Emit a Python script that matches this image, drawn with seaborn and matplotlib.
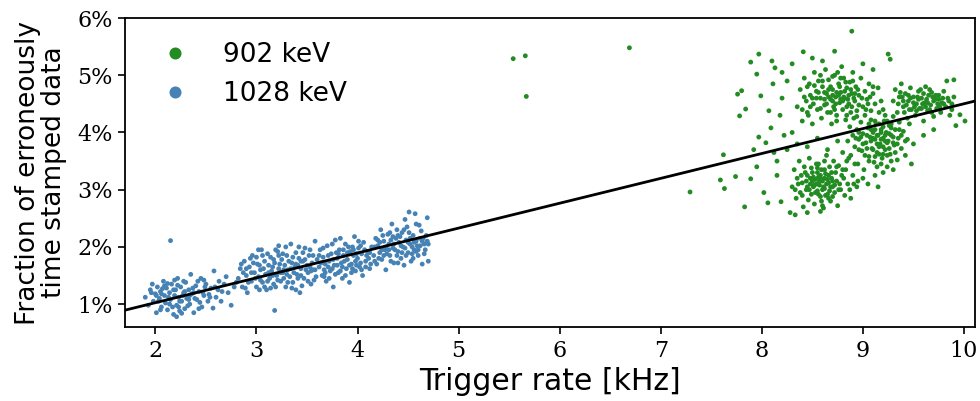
import matplotlib
matplotlib.use("Agg")
import matplotlib.pyplot as plt
import seaborn as sns
import pandas as pd
from matplotlib.ticker import FuncFormatter

# ---------------- data ----------------
labels = ["902 keV", "1028 keV"]
colors = {"902 keV": "forestgreen", "1028 keV": "steelblue"}

# 1028 keV: trigger rate [kHz], fraction [%]
blue_pts = [
    (1.90,1.12),(1.93,0.98),(1.95,1.25),(1.97,1.35),(1.98,1.05),(2.00,1.18),(2.01,0.85),(2.02,1.30),
    (2.04,1.10),(2.05,1.22),(2.06,0.95),(2.08,1.40),(2.09,1.15),(2.10,1.02),(2.11,1.28),(2.12,0.90),
    (2.14,1.20),(2.15,2.11),(2.15,1.08),(2.16,1.35),(2.18,0.82),(2.19,1.15),(2.20,1.25),(2.21,0.78),
    (2.21,0.98),(2.22,1.45),(2.23,1.12),(2.24,0.88),(2.25,1.30),(2.26,1.05),(2.28,1.20),(2.29,0.92),
    (2.30,1.38),(2.31,1.10),(2.33,1.25),(2.34,1.00),(2.35,1.52),(2.36,1.18),(2.38,0.85),(2.40,1.32),
    (2.41,1.08),(2.43,1.22),(2.45,1.45),(2.46,0.95),(2.48,1.15),(2.50,1.35),(2.52,1.05),(2.55,1.28),
    (2.58,1.58),(2.60,1.12),(2.63,1.40),(2.66,1.22),(2.70,1.48),(2.75,0.98),(2.78,1.30),
    (2.03,1.05),(2.07,1.27),(2.13,1.12),(2.17,0.95),(2.22,1.33),(2.27,1.15),(2.32,0.97),(2.37,1.28),
    (2.42,1.40),(2.47,1.20),(2.53,1.17),(2.57,0.93),(2.62,1.25),(2.68,1.35),(2.06,1.18),(2.19,1.42),
    (2.26,0.84),(2.34,1.15),(2.44,1.03),(2.12,1.36),(1.96,1.20),(2.29,1.22),(2.39,1.10),(2.49,1.30),
    (2.24,1.05),
    (2.01,1.15),(2.05,0.90),(2.09,1.32),(2.14,1.00),(2.18,1.25),(2.23,0.95),(2.28,1.40),(2.33,1.08),
    (2.38,1.20),(2.43,0.92),(2.48,1.42),(2.54,1.12),(2.59,1.30),(2.65,1.05),(2.72,1.20),(2.80,1.38),
    (2.82,1.45),(2.84,1.62),(2.86,1.30),(2.88,1.75),(2.90,1.50),(2.91,1.20),(2.93,1.65),(2.95,1.40),
    (2.96,1.85),(2.98,1.55),(3.00,1.30),(3.01,1.70),(3.02,1.48),(3.04,1.60),(3.05,1.95),(3.06,1.38),
    (3.08,1.75),(3.09,1.52),(3.10,1.25),(3.12,1.68),(3.13,1.45),(3.14,1.82),(3.15,1.58),(3.17,1.35),
    (3.18,0.89),(3.18,1.72),(3.20,1.50),(3.21,1.92),(3.22,1.62),(3.24,1.40),(3.25,1.78),(3.26,1.55),
    (3.28,1.68),(3.29,1.30),(3.30,1.85),(3.31,1.60),(3.33,1.48),(3.34,2.05),(3.35,1.72),(3.36,1.38),
    (3.38,1.65),(3.39,1.90),(3.40,1.52),(3.42,1.80),(3.43,1.20),(3.44,1.62),(3.46,1.75),(3.47,1.45),
    (3.48,1.98),(3.50,1.68),(3.51,1.55),(3.52,1.85),(3.54,1.35),(3.55,1.72),(3.56,1.60),(3.58,2.10),
    (3.59,1.48),(3.60,1.78),
    (2.87,1.55),(2.92,1.38),(2.97,1.72),(3.03,1.25),(3.07,1.62),(3.11,1.88),(3.16,1.50),(3.19,1.30),
    (3.23,1.70),(3.27,1.45),(3.32,1.75),(3.37,1.55),(3.41,1.68),(3.45,1.32),(3.49,1.60),(3.53,1.95),
    (3.57,1.42),(2.89,1.28),(2.94,1.80),(2.99,1.45),(3.06,1.85),(3.11,1.40),(3.16,1.65),(3.22,1.85),
    (3.27,1.60),(3.31,1.38),(3.36,1.82),(3.41,1.45),(3.46,1.90),(3.51,1.40),(3.56,1.85),(3.03,1.68),
    (3.14,1.28),(3.24,1.55),(3.34,1.62),(3.44,1.75),(3.54,1.58),(3.19,1.95),(3.29,2.00),(3.39,1.25),
    (2.85,1.70),(2.90,1.62),(2.95,1.55),(3.00,1.82),(3.04,1.42),(3.08,1.30),(3.12,1.55),(3.17,1.78),
    (3.21,1.42),(3.26,1.88),(3.30,1.52),(3.35,1.28),(3.39,1.70),(3.44,1.50),(3.48,1.78),(3.53,1.65),
    (3.58,1.60),(3.02,1.95),(3.22,2.02),(3.42,2.00),
    (3.62,1.65),(3.63,1.95),(3.65,1.50),(3.66,1.82),(3.68,1.70),(3.69,1.40),(3.70,2.02),(3.72,1.75),
    (3.73,1.58),(3.74,1.88),(3.76,1.30),(3.77,1.68),(3.78,2.12),(3.80,1.80),(3.81,1.55),(3.82,1.95),
    (3.84,1.72),(3.85,1.45),(3.86,1.85),(3.88,2.05),(3.89,1.62),(3.90,1.78),(3.92,1.38),(3.93,1.92),
    (3.94,1.70),(3.96,1.85),(3.97,2.18),(3.98,1.58),(4.00,1.80),(4.01,1.98),(4.02,1.65),(4.04,1.88),
    (4.05,1.50),(4.06,2.08),(4.08,1.75),(4.10,1.92),(4.12,1.62),(4.14,2.00),
    (3.64,1.72),(3.67,1.60),(3.71,1.85),(3.75,1.62),(3.79,1.90),(3.83,1.58),(3.87,1.75),(3.91,2.00),
    (3.95,1.62),(3.99,1.88),(4.03,1.72),(4.07,1.95),(4.11,1.80),(3.66,1.98),(3.72,1.45),(3.80,1.68),
    (3.86,1.95),(3.92,1.68),(3.98,1.75),(4.04,1.60),(4.09,1.85),(3.75,2.05),(3.88,1.50),(4.01,2.10),
    (3.68,1.55),(3.83,2.15),(3.95,2.00),(4.13,1.70),
    (3.62,1.85),(3.67,1.48),(3.71,1.65),(3.76,1.78),(3.81,1.88),(3.85,1.65),(3.90,1.90),(3.94,1.55),
    (3.99,1.68),(4.03,2.02),(4.08,1.65),(4.12,1.90),(3.78,1.52),(3.96,1.95),
    (4.16,1.85),(4.18,2.15),(4.19,1.70),(4.20,2.02),(4.22,1.90),(4.23,2.30),(4.24,1.78),(4.26,2.10),
    (4.27,1.95),(4.28,1.60),(4.30,2.22),(4.31,2.05),(4.32,1.85),(4.34,2.40),(4.35,1.98),(4.36,1.72),
    (4.38,2.15),(4.39,2.30),(4.40,1.92),(4.41,2.08),(4.43,1.80),(4.44,2.25),(4.45,2.00),(4.46,1.68),
    (4.48,2.12),(4.49,2.35),(4.50,1.90),(4.51,2.61),(4.52,2.05),(4.53,1.75),(4.55,2.20),(4.56,1.95),
    (4.57,2.58),(4.58,2.10),(4.60,1.85),(4.61,2.38),(4.62,2.02),(4.64,1.70),(4.65,2.15),(4.67,1.95),
    (4.69,2.51),(4.70,2.05),
    (4.17,2.00),(4.21,1.80),(4.25,2.20),(4.29,1.88),(4.33,2.12),(4.37,1.95),(4.42,2.18),(4.47,1.98),
    (4.51,2.25),(4.54,1.88),(4.59,2.02),(4.63,2.28),(4.66,2.05),(4.20,2.12),(4.28,2.00),(4.36,2.05),
    (4.44,1.90),(4.52,2.15),(4.60,1.95),(4.68,2.20),(4.24,1.95),(4.32,2.25),(4.40,2.20),(4.48,1.85),
    (4.56,2.08),(4.64,2.10),(4.47,2.48),(4.40,1.72),(4.55,1.80),(4.70,1.75),
    (4.17,1.75),(4.22,2.08),(4.26,1.85),(4.31,1.95),(4.35,2.18),(4.39,1.85),(4.43,2.02),(4.46,2.30),
    (4.50,2.08),(4.54,2.00),(4.58,1.92),(4.62,2.15),(4.66,1.88),(4.69,2.10),(4.58,2.40),(4.33,1.75),
]

# 902 keV: trigger rate [kHz], fraction [%]
green_pts = [
    # lower blob
    (8.30,3.05),(8.32,3.35),(8.34,2.85),(8.35,3.20),(8.37,3.50),(8.38,2.95),(8.40,3.12),(8.41,2.70),
    (8.42,3.40),(8.44,3.00),(8.45,3.25),(8.46,2.82),(8.47,3.55),(8.48,3.10),(8.49,2.92),(8.50,3.30),
    (8.51,3.05),(8.52,2.75),(8.53,3.18),(8.54,3.45),(8.55,2.98),(8.56,3.22),(8.57,3.08),(8.58,2.88),
    (8.59,3.35),(8.60,3.15),(8.61,2.68),(8.62,3.02),(8.63,3.28),(8.64,3.60),(8.65,2.92),(8.66,3.12),
    (8.67,3.40),(8.68,2.80),(8.69,3.20),(8.70,3.05),(8.71,3.50),(8.72,2.95),(8.73,3.30),(8.74,3.15),
    (8.75,2.72),(8.76,3.42),(8.78,3.00),(8.79,3.25),(8.80,3.65),(8.82,2.90),(8.83,3.35),(8.85,3.10),
    (8.86,3.55),(8.88,2.85),(8.90,3.25),(8.92,3.45),(8.94,3.05),(8.96,3.70),(8.45,2.60),(8.58,2.62),
    (8.48,3.20),(8.52,3.08),(8.55,3.30),(8.57,3.15),(8.60,3.00),(8.62,3.20),(8.64,3.10),(8.66,3.25),
    (8.68,3.05),(8.53,2.95),(8.58,3.25),(8.63,2.90),(8.50,3.15),(8.70,3.15),(8.45,3.05),(8.36,3.10),
    (8.43,3.30),(8.74,3.40),(8.77,3.10),(8.81,3.20),(8.87,3.00),(8.39,3.25),(8.56,3.45),(8.62,3.50),
    (8.70,2.88),(8.40,2.90),(8.33,3.00),(8.84,3.50),(8.91,3.10),(8.59,2.80),
    (8.47,3.00),(8.51,3.22),(8.54,3.10),(8.56,2.92),(8.59,3.18),(8.61,3.05),(8.65,3.18),(8.67,2.98),
    (8.69,3.30),(8.72,3.08),(8.55,3.38),(8.62,3.35),(8.49,3.38),(8.44,3.15),(8.76,3.00),(8.80,3.35),
    (8.60,2.72),(8.66,2.85),
    # upper blob
    (8.35,4.45),(8.38,4.75),(8.40,4.20),(8.42,4.95),(8.44,4.55),(8.45,4.35),(8.47,4.85),(8.48,4.65),
    (8.50,4.15),(8.51,4.50),(8.52,5.05),(8.54,4.72),(8.55,4.40),(8.56,4.90),(8.58,4.60),(8.59,4.25),
    (8.60,4.80),(8.62,4.48),(8.63,5.10),(8.64,4.68),(8.65,4.35),(8.66,4.92),(8.68,4.58),(8.69,4.15),
    (8.70,4.75),(8.71,4.45),(8.72,5.00),(8.73,4.62),(8.74,4.30),(8.76,4.85),(8.77,4.52),(8.78,4.70),
    (8.79,5.15),(8.80,4.40),(8.81,4.95),(8.82,4.60),(8.83,4.22),(8.84,4.78),(8.86,4.50),(8.87,4.88),
    (8.88,4.35),(8.89,4.68),(8.90,5.05),(8.92,4.55),(8.93,4.80),(8.94,4.28),(8.96,4.65),(8.98,4.95),
    (9.00,4.45),(9.02,4.72),(9.04,4.58),(9.06,4.85),(9.08,4.38),(9.10,4.68),(9.12,4.50),(9.15,4.78),
    (9.18,4.55),(9.20,4.40),
    (8.66,4.62),(8.70,4.55),(8.74,4.70),(8.78,4.58),(8.82,4.72),(8.86,4.65),(8.68,4.80),(8.72,4.40),
    (8.76,4.65),(8.80,4.55),(8.84,4.45),(8.88,4.75),(8.62,4.70),(8.58,4.42),(8.54,4.60),(8.92,4.68),
    (8.96,4.48),(8.64,4.50),(8.90,4.90),(8.78,4.95),(8.70,4.98),(8.60,4.90),(8.48,4.45),(8.52,4.82),
    (8.99,4.60),(9.03,4.40),(9.07,4.62),(8.84,4.30),(8.74,4.20),(8.94,4.38),(8.42,4.62),(8.46,4.30),
    (8.62,4.58),(8.66,4.75),(8.70,4.65),(8.73,4.50),(8.77,4.80),(8.81,4.62),(8.85,4.58),(8.89,4.45),
    (8.91,4.60),(8.68,4.35),(8.56,4.70),(8.50,4.60),(8.45,4.80),(8.58,5.00),(8.75,5.05),(8.83,4.88),
    (8.95,4.75),(9.05,4.50),(9.10,4.80),(8.40,4.40),
    # middle-right blob
    (8.85,3.85),(8.87,4.10),(8.88,3.60),(8.90,3.95),(8.91,4.25),(8.92,3.75),(8.94,4.05),(8.95,3.45),
    (8.96,3.88),(8.98,4.18),(8.99,3.68),(9.00,3.98),(9.01,3.35),(9.02,4.30),(9.03,3.82),(9.05,4.08),
    (9.06,3.58),(9.07,3.92),(9.08,4.22),(9.09,3.72),(9.10,4.00),(9.11,3.48),(9.12,3.88),(9.13,4.15),
    (9.14,3.65),(9.15,3.95),(9.16,4.35),(9.17,3.80),(9.18,4.05),(9.19,3.55),(9.20,3.90),(9.21,4.20),
    (9.22,3.70),(9.23,4.00),(9.24,3.40),(9.25,3.85),(9.26,4.12),(9.27,3.62),(9.28,3.95),(9.30,4.28),
    (9.31,3.78),(9.32,4.05),(9.34,3.52),(9.35,3.90),(9.36,4.18),(9.38,3.72),(9.40,4.02),(9.42,3.60),
    (9.44,3.88),(9.46,4.15),(9.48,3.45),(9.50,3.80),(9.00,3.20),(9.05,3.10),(9.12,3.25),(9.20,3.30),
    (9.30,3.35),(9.15,3.05),(8.95,3.15),
    (9.08,3.85),(9.12,4.05),(9.16,3.75),(9.20,4.10),(9.24,3.82),(9.28,4.08),(9.10,3.70),(9.14,3.95),
    (9.18,3.88),(9.22,3.95),(9.26,3.72),(9.30,3.92),(9.04,3.95),(9.00,3.80),(8.96,4.00),(9.34,3.80),
    (9.38,3.95),(9.16,4.15),(9.06,4.15),(9.24,4.20),(9.12,3.58),(9.20,3.62),(9.32,3.65),(9.02,3.60),
    (8.93,3.90),(9.42,3.85),(9.28,3.50),(9.18,3.45),
    (9.10,3.90),(9.14,3.80),(9.18,4.00),(9.22,3.85),(9.26,3.98),(9.12,4.20),(9.04,3.72),(9.08,4.05),
    (9.16,3.62),(9.24,3.60),(9.30,3.82),(9.20,3.75),(9.28,4.15),(8.98,3.92),(9.36,4.05),(9.06,3.50),
    (9.22,4.30),(9.14,3.40),
    # right blob
    (9.30,4.55),(9.32,4.75),(9.34,4.35),(9.36,4.62),(9.38,4.85),(9.40,4.45),(9.42,4.68),(9.44,4.25),
    (9.45,4.55),(9.47,4.78),(9.48,4.40),(9.50,4.62),(9.52,4.30),(9.53,4.50),(9.55,4.72),(9.56,4.42),
    (9.58,4.60),(9.60,4.20),(9.61,4.52),(9.62,4.80),(9.64,4.38),(9.65,4.65),(9.67,4.48),(9.68,4.70),
    (9.70,4.28),(9.72,4.58),(9.73,4.42),(9.75,4.65),(9.77,4.35),(9.78,4.52),(9.80,4.72),(9.82,4.45),
    (9.84,4.60),(9.86,4.30),(9.88,4.50),(9.90,4.62),(9.83,4.90),(9.90,4.92),(9.96,4.31),(10.01,4.20),
    (9.92,4.12),(9.70,4.05),(9.60,3.95),
    (9.35,4.50),(9.39,4.62),(9.43,4.48),(9.47,4.60),(9.51,4.45),(9.55,4.58),(9.59,4.50),(9.63,4.58),
    (9.66,4.40),(9.70,4.55),(9.74,4.50),(9.79,4.60),(9.37,4.70),(9.46,4.40),(9.54,4.62),(9.62,4.45),
    (9.69,4.62),(9.76,4.45),(9.85,4.55),(9.41,4.35),(9.57,4.75),(9.66,4.75),
    (9.50,4.52),(9.58,4.42),(9.64,4.52),(9.72,4.65),(9.80,4.50),(9.45,4.65),(9.53,4.38),(9.60,4.68),
    (9.68,4.35),(9.75,4.58),(9.40,4.55),(9.88,4.40),
    # sparse points and outliers
    (7.29,2.96),(7.62,3.61),(7.59,3.17),(7.83,2.70),(7.97,5.37),(7.89,5.23),(7.95,5.02),(7.76,4.67),
    (7.80,4.73),(7.78,4.29),(7.84,4.41),(7.97,3.92),(7.92,3.70),(7.74,3.23),(7.63,3.02),(7.89,3.19),
    (8.02,2.95),(8.06,2.77),(8.10,5.25),(8.13,5.13),(8.11,4.85),(7.99,4.64),(8.07,4.38),(8.09,4.08),
    (8.04,3.82),(8.19,2.79),(8.28,2.60),(8.33,2.56),(8.89,5.77),(8.72,5.42),(8.41,5.41),(9.25,5.37),
    (9.27,5.28),(8.20,4.60),(8.25,4.90),(8.18,4.30),(8.22,3.95),(8.15,3.50),(8.25,3.70),(8.30,4.00),
    (8.15,3.25),(8.20,5.05),(8.30,5.20),(8.50,5.30),(8.60,5.25),(9.00,5.20),(9.10,5.10),(8.12,3.65),
    (7.95,3.40),(8.35,3.80),(8.45,3.75),(8.55,3.90),(8.65,3.70),(8.75,3.85),
    (5.54,5.29),(5.66,5.34),(5.67,4.63),(6.69,5.48),
]

# linear fit shown as black line: fraction[%] = slope * rate + intercept
fit_slope = 0.4346
fit_intercept = 0.156

x_ticks = [2, 3, 4, 5, 6, 7, 8, 9, 10]
y_ticks = [1, 2, 3, 4, 5, 6]

# ---------------- build table ----------------
rows = [(x, y, "902 keV") for x, y in green_pts] + [(x, y, "1028 keV") for x, y in blue_pts]
df = pd.DataFrame(rows, columns=["rate", "frac", "line"])

sns.set_theme(style="white")
plt.rcParams["font.family"] = ["DejaVu Sans"]
plt.rcParams["text.color"] = "black"
plt.rcParams["axes.labelcolor"] = "black"

fig = plt.figure(figsize=(9.8, 4.01), dpi=100)
ax = fig.add_axes([0.1276, 0.1845, 0.8674, 0.7705])

sns.scatterplot(data=df, x="rate", y="frac", hue="line", hue_order=labels,
                palette=colors, s=12, linewidth=0, ax=ax)

ax.axline((0, fit_intercept), slope=fit_slope, color="black", lw=2, zorder=5)

ax.set_xlim(1.70, 10.11)
ax.set_ylim(0.6, 6.0)
ax.set_xticks(x_ticks)
ax.set_yticks(y_ticks)
ax.yaxis.set_major_formatter(FuncFormatter(lambda v, p: f"{v:.0f}%"))

for lab in ax.get_xticklabels() + ax.get_yticklabels():
    lab.set_fontfamily("DejaVu Serif")
    lab.set_fontsize(16)
ax.tick_params(axis="both", which="major", direction="out", length=5, width=1.2,
               color="black", labelcolor="black", bottom=True, left=True, pad=4)

for sp in ax.spines.values():
    sp.set_color("black")
    sp.set_linewidth(1.3)
    sp.set_visible(True)

ax.set_xlabel("Trigger rate [kHz]", fontsize=21.5, color="black")
ax.set_ylabel("Fraction of erroneously\ntime stamped data", fontsize=19,
              color="black", linespacing=1.0, labelpad=7.5)

leg = ax.legend(frameon=False, fontsize=19, markerscale=2.5, loc="upper left")
for t in leg.get_texts():
    t.set_color("black")
ax.grid(False)

fig.savefig("out.png", dpi=100)
